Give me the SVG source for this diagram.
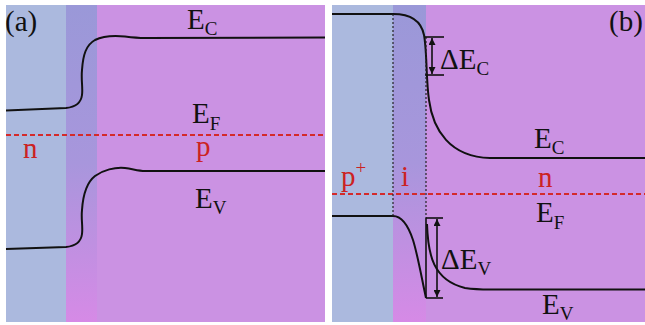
<svg xmlns="http://www.w3.org/2000/svg" width="645" height="325" viewBox="0 0 645 325">
  <defs>
    <linearGradient id="band" x1="0" y1="0" x2="0" y2="1">
      <stop offset="0" stop-color="#9a98d8"/>
      <stop offset="0.5" stop-color="#a896dc"/>
      <stop offset="1" stop-color="#d68ae6"/>
    </linearGradient>
    <marker id="ah" viewBox="0 0 10 10" refX="10" refY="5" markerWidth="7" markerHeight="7" orient="auto-start-reverse" markerUnits="userSpaceOnUse">
      <path d="M0,0 L10,5 L0,10 Z" fill="#111"/>
    </marker>
  </defs>
  <style>
    .band { fill: none; stroke: #111; stroke-width: 2; }
    .ef { stroke: #d42a2a; stroke-width: 2; stroke-dasharray: 5 3; fill: none; }
    .dot { stroke: #222; stroke-width: 1.2; stroke-dasharray: 2 2; fill: none; }
    .ln { stroke: #111; stroke-width: 1.6; fill: none; }
    .t { font-family: "Liberation Serif", "Times New Roman", serif; font-size: 29px; fill: #111; }
    .r { font-family: "Liberation Serif", "Times New Roman", serif; font-size: 29px; fill: #cc2222; }
    .s { font-size: 19px; }
  </style>
  <rect width="645" height="325" fill="#ffffff"/>

  <g id="panel-a">
    <rect x="6" y="5" width="60" height="317" fill="#abb9de"/>
    <rect x="66" y="5" width="31" height="317" fill="url(#band)"/>
    <rect x="97" y="5" width="228" height="317" fill="#cb92e3"/>
    <path class="band" d="M6,110.5 L66,108 C76,107 81,103 82,95 C83,88 81,80 82,70 C83,55 86,45 95,40 C103,36 115,35.5 125,36.5 C133,37.5 138,38 145,38 L325,37.5"/>
    <path class="band" d="M6,249 L66,247 C76,246 81,242 82,234 C83,226 81,220 82,210 C83,195 86,183 95,176 C103,170 115,167 125,168 C133,169 138,171 145,171 L325,171"/>
    <line class="ef" x1="6" y1="135" x2="325" y2="135"/>
    <text class="t" x="5" y="31">(a)</text>
    <text class="t" x="187" y="29">E<tspan class="s" dy="6">C</tspan></text>
    <text class="t" x="192" y="123">E<tspan class="s" dy="7">F</tspan></text>
    <text class="t" x="195" y="208">E<tspan class="s" dy="6">V</tspan></text>
    <text class="r" x="23" y="158">n</text>
    <text class="r" x="196" y="156">p</text>
  </g>

  <g id="panel-b">
    <rect x="332" y="5" width="61" height="317" fill="#abb9de"/>
    <rect x="393" y="5" width="33" height="317" fill="url(#band)"/>
    <rect x="426" y="5" width="219" height="317" fill="#cb92e3"/>
    <path class="band" d="M332,14 H393 C410,14 421,20 424,35 C427,50 426,80 429,100 C433,130 450,157 490,158 H645"/>
    <path class="band" d="M332,216 H393 C402,216 408,225 413,240 C418,256 422,280 426,298"/>
    <path class="band" d="M427,224 C428,255 433,280 465,288 C472,289 480,289.5 490,289.5 H645"/>
    <line class="ef" x1="332" y1="194" x2="645" y2="194"/>
    <text class="t" x="609" y="31">(b)</text>
    <text class="r" x="341" y="186">p<tspan class="s" dy="-12">+</tspan></text>
    <text class="r" x="401" y="186">i</text>
    <text class="r" x="538" y="187">n</text>
    <text class="t" x="534" y="148">E<tspan class="s" dy="6">C</tspan></text>
    <text class="t" x="536" y="222">E<tspan class="s" dy="7">F</tspan></text>
    <text class="t" x="542" y="314">E<tspan class="s" dy="6">V</tspan></text>
    <text class="t" x="440" y="69">ΔE<tspan class="s" dy="6">C</tspan></text>
    <text class="t" x="441" y="269">ΔE<tspan class="s" dy="6">V</tspan></text>
  </g>

  <g id="connectors">
    <line class="dot" x1="393" y1="14" x2="393" y2="216"/>
    <line class="dot" x1="426" y1="37" x2="426" y2="218"/>
    <line class="ln" x1="425" y1="37" x2="444" y2="37"/>
    <line class="ln" x1="425" y1="75" x2="444" y2="75"/>
    <line class="ln" x1="432" y1="38" x2="432" y2="74" marker-start="url(#ah)" marker-end="url(#ah)"/>
    <line class="ln" x1="426" y1="218" x2="443" y2="218"/>
    <line class="ln" x1="426" y1="298" x2="443" y2="298"/>
    <line class="ln" x1="426" y1="218" x2="426" y2="298"/>
    <line class="ln" x1="437" y1="219" x2="437" y2="297" marker-start="url(#ah)" marker-end="url(#ah)"/>
  </g>
</svg>
